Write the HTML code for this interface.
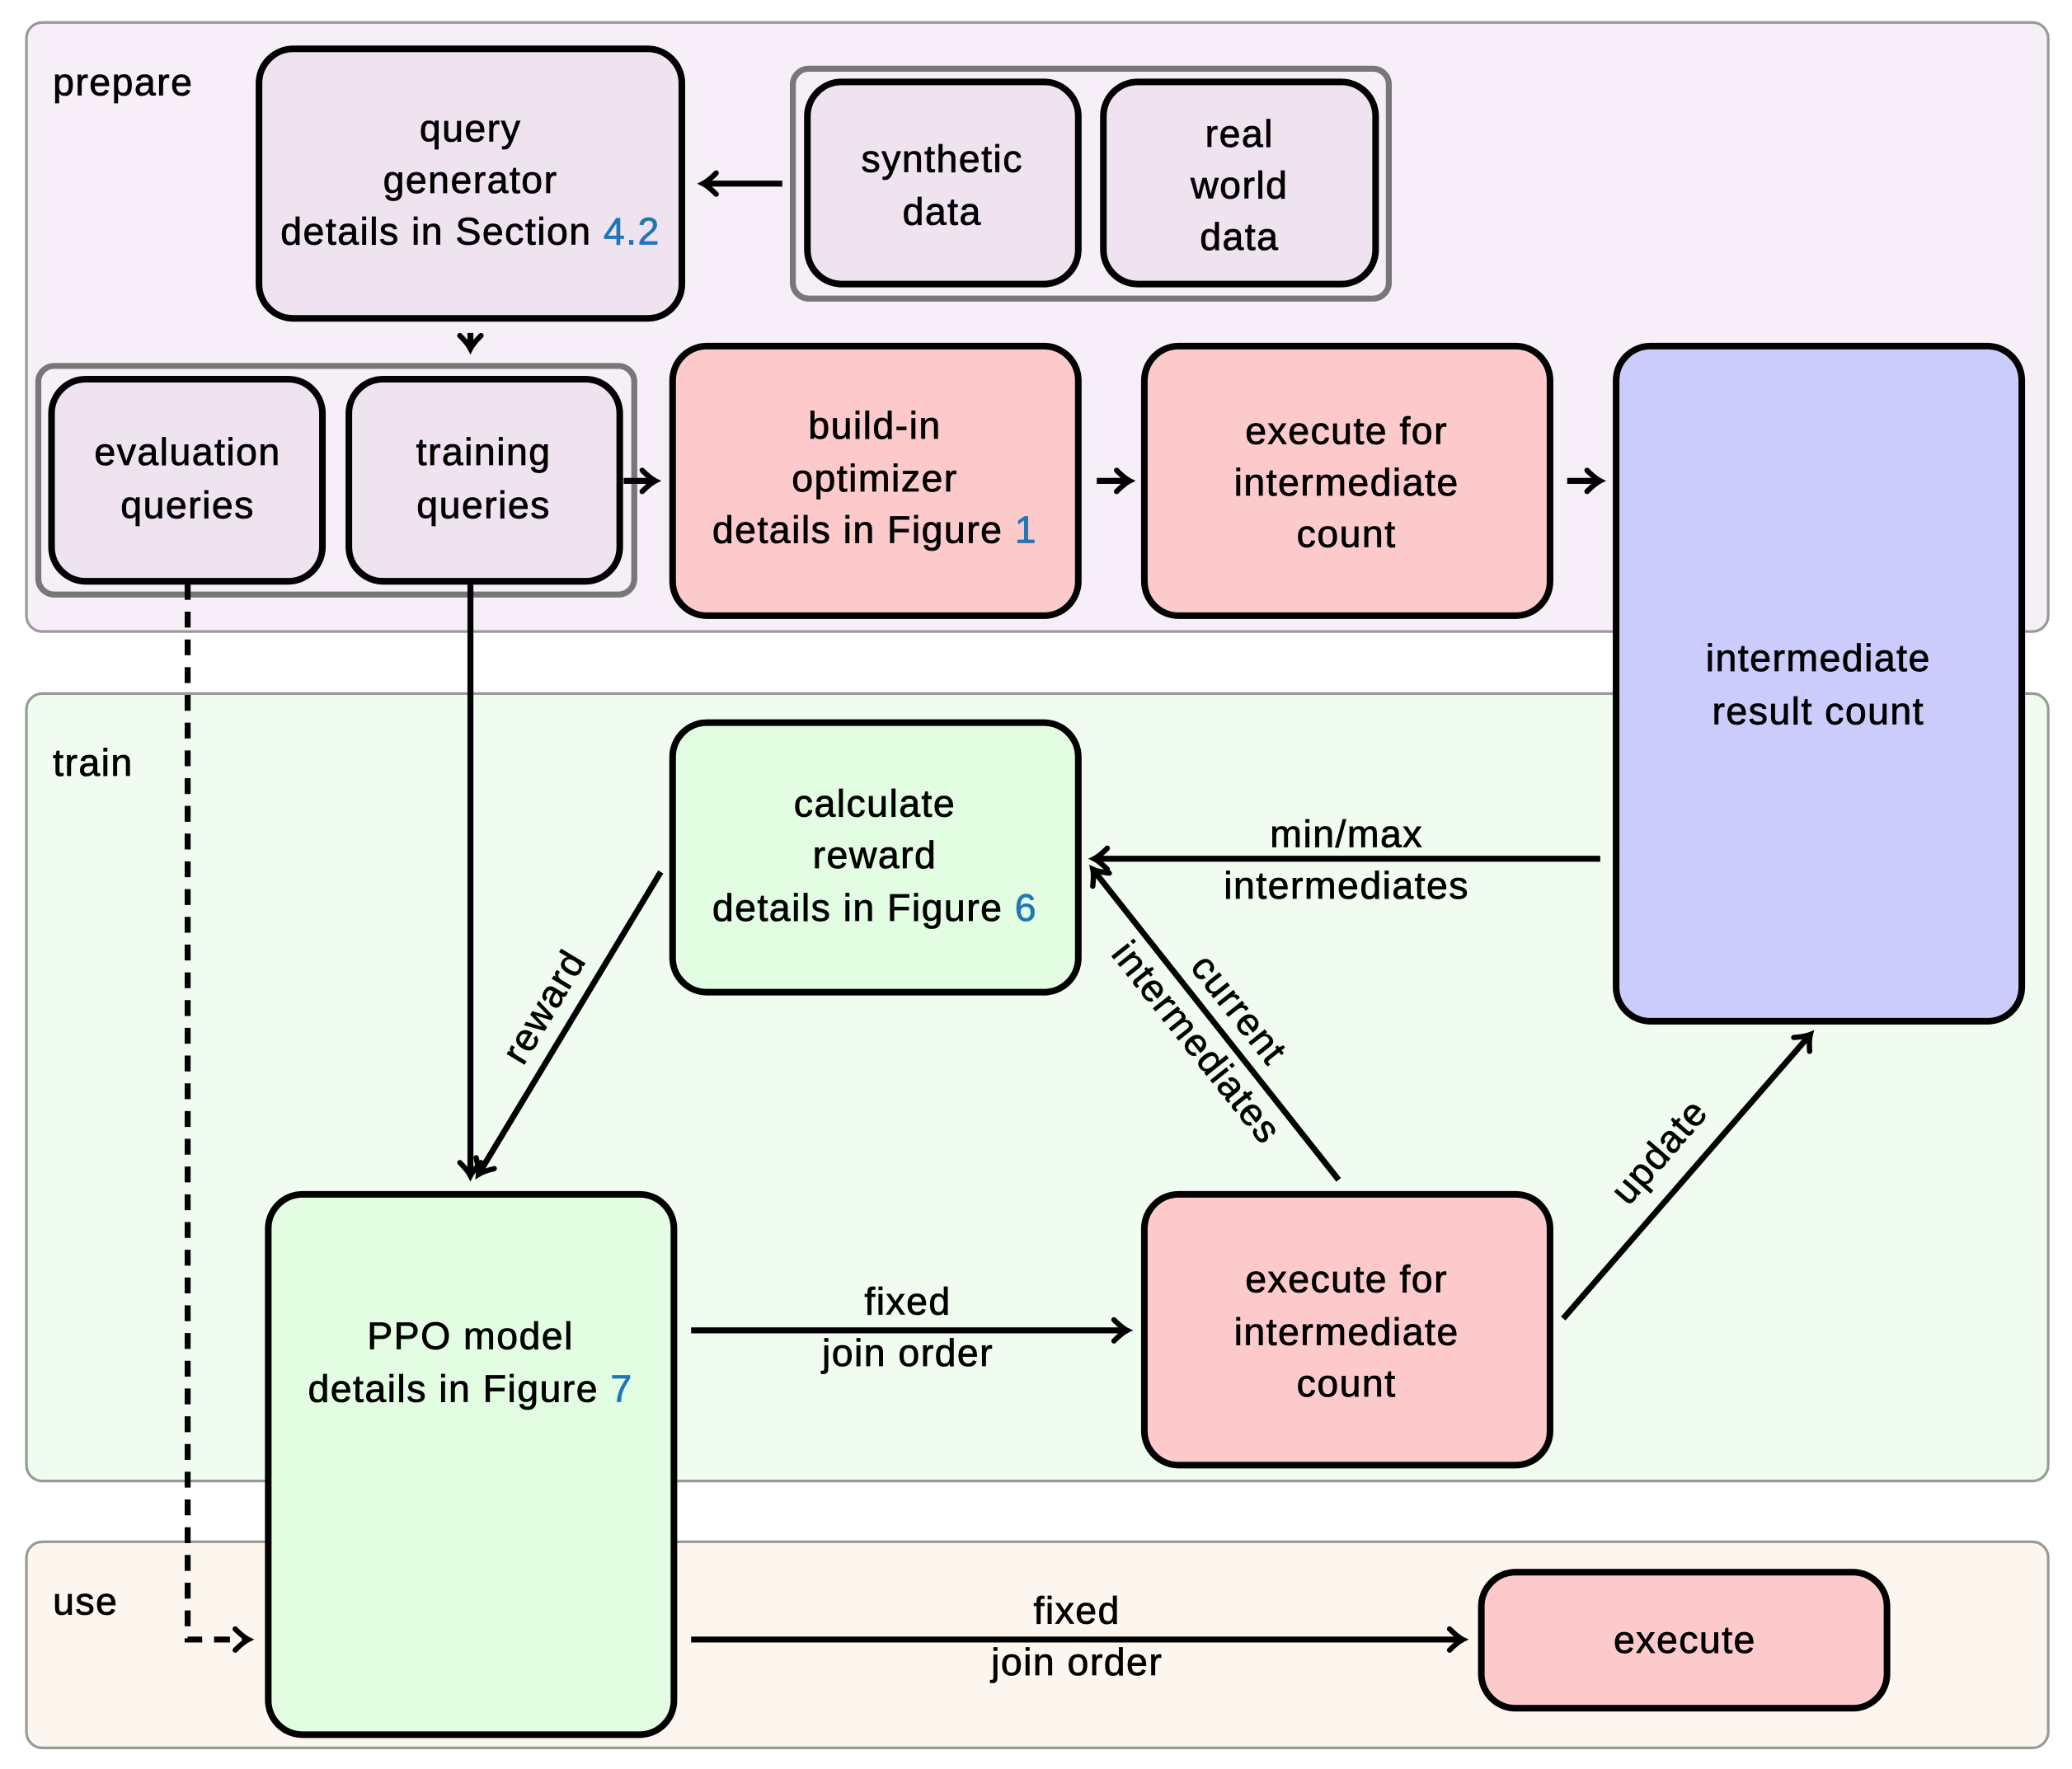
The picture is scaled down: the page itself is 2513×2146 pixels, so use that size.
<!DOCTYPE html>
<html><head><meta charset="utf-8"><style>
html,body{margin:0;padding:0;background:#fff}
svg{display:block}
text{font-family:"Liberation Sans","DejaVu Sans",sans-serif;font-size:29px;letter-spacing:0.9px;fill:#000;stroke:#000;stroke-width:0.5;text-anchor:middle}
.b{fill:#1f77b4;stroke:#1f77b4}
</style></head><body>
<svg width="2513" height="2146" viewBox="0 0 1568 1339" preserveAspectRatio="none" xmlns="http://www.w3.org/2000/svg">
<defs>
<marker id="a" viewBox="0 0 20 20" refX="14" refY="10" markerWidth="20" markerHeight="20" markerUnits="userSpaceOnUse" orient="auto">
<path d="M4,2 Q10,8 14,10 Q10,12 4,18" fill="none" stroke="#000" stroke-width="4" stroke-linecap="round"/>
</marker>
</defs>
<rect x="20" y="17" width="1530" height="461" rx="12" fill="#f7eff7" stroke="#999" stroke-width="2"/>
<rect x="20" y="525" width="1530" height="596" rx="12" fill="#f0fcf0" stroke="#999" stroke-width="2"/>
<rect x="20" y="1167" width="1530" height="156" rx="12" fill="#fdf6ef" stroke="#999" stroke-width="2"/>
<text x="40" y="72" style="text-anchor:start">prepare</text>
<text x="40" y="587" style="text-anchor:start">train</text>
<text x="40" y="1222" style="text-anchor:start">use</text>

<rect x="600" y="52" width="451" height="174" rx="12" fill="none" stroke="#777" stroke-width="4.5"/>
<rect x="29" y="277" width="451" height="173" rx="12" fill="none" stroke="#777" stroke-width="4.5"/>

<g stroke="#000" stroke-width="5">
<rect x="196" y="37" width="320" height="204" rx="26" fill="#eee3ef"/>
<rect x="611" y="62" width="205" height="153" rx="26" fill="#eee3ef"/>
<rect x="835" y="62" width="206" height="153" rx="26" fill="#eee3ef"/>
<rect x="39" y="287" width="205" height="153" rx="26" fill="#eee3ef"/>
<rect x="264" y="287" width="205" height="153" rx="26" fill="#eee3ef"/>
<rect x="509" y="262" width="307" height="204" rx="26" fill="#fccaca"/>
<rect x="866" y="262" width="307" height="204" rx="26" fill="#fccaca"/>
<rect x="1223" y="262" width="307" height="511" rx="26" fill="#ccccfc"/>
<rect x="509" y="547" width="307" height="204" rx="26" fill="#e2fde2"/>
<rect x="203" y="904" width="307" height="409" rx="26" fill="#e2fde2"/>
<rect x="866" y="904" width="307" height="205" rx="26" fill="#fccaca"/>
<rect x="1121" y="1190" width="307" height="103" rx="26" fill="#fccaca"/>
</g>

<text x="356" y="107">query</text>
<text x="356" y="146">generator</text>
<text x="356" y="185">details in Section <tspan class="b">4.2</tspan></text>
<text x="713" y="130">synthetic</text>
<text x="713" y="170">data</text>
<text x="938" y="111">real</text>
<text x="938" y="150">world</text>
<text x="938" y="189">data</text>
<text x="142" y="352">evaluation</text>
<text x="142" y="392">queries</text>
<text x="366" y="352">training</text>
<text x="366" y="392">queries</text>
<text x="662" y="332">build-in</text>
<text x="662" y="372">optimizer</text>
<text x="662" y="411">details in Figure <tspan class="b">1</tspan></text>
<text x="1019" y="336">execute for</text>
<text x="1019" y="375">intermediate</text>
<text x="1019" y="414">count</text>
<text x="1376" y="508">intermediate</text>
<text x="1376" y="548">result count</text>
<text x="662" y="618">calculate</text>
<text x="662" y="657">reward</text>
<text x="662" y="697">details in Figure <tspan class="b">6</tspan></text>
<text x="356" y="1021">PPO model</text>
<text x="356" y="1061">details in Figure <tspan class="b">7</tspan></text>
<text x="1019" y="978">execute for</text>
<text x="1019" y="1018">intermediate</text>
<text x="1019" y="1057">count</text>
<text x="1275" y="1251">execute</text>

<g stroke="#000" stroke-width="4.5" fill="none" marker-end="url(#a)">
<line x1="592" y1="139" x2="532" y2="139"/>
<line x1="356" y1="252" x2="356" y2="264"/>
<line x1="472" y1="364" x2="496" y2="364"/>
<line x1="830" y1="364" x2="855" y2="364"/>
<line x1="1186" y1="364" x2="1211" y2="364"/>
<line x1="356" y1="442" x2="356" y2="890"/>
<line x1="500" y1="660" x2="362" y2="889"/>
<line x1="1211" y1="650" x2="828" y2="650"/>
<line x1="1013" y1="893" x2="827" y2="658"/>
<line x1="1183" y1="998" x2="1370" y2="783"/>
<line x1="523" y1="1007" x2="853" y2="1007"/>
<line x1="523" y1="1241" x2="1107" y2="1241"/>
<polyline points="142,442 142,1241 188,1241" stroke-dasharray="12,9"/>
</g>

<text x="1019" y="641">min/max</text>
<text x="1019" y="680">intermediates</text>
<text x="687" y="995">fixed</text>
<text x="687" y="1034">join order</text>
<text x="815" y="1229">fixed</text>
<text x="815" y="1268">join order</text>
<text transform="translate(420,767) rotate(-59)">reward</text>
<text transform="translate(930,770) rotate(51.5)">current</text>
<text transform="translate(898,795) rotate(51.5)">intermediates</text>
<text transform="translate(1263,878) rotate(-49)">update</text>
</svg>
</body></html>
